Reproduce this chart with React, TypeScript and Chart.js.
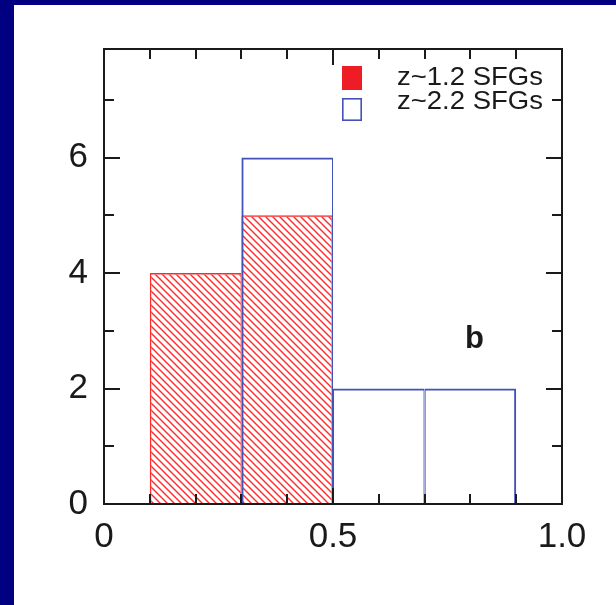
import React, { useEffect, useRef } from "react";
import { Chart, registerables } from "chart.js";

Chart.register(...registerables);

// ---- data ----
const binCenters = [0.2, 0.4, 0.6, 0.8]; // bins 0.1–0.3, 0.3–0.5, 0.5–0.7, 0.7–0.9
const z12Counts = [4, 5, 0, 0];
const z22Counts = [0, 6, 2, 2];
const seriesLabels = ["z~1.2 SFGs", "z~2.2 SFGs"];
const xTickLabels = ["0", "0.5", "1.0"];
const xTickValues = [0, 0.5, 1.0];
const yTickLabels = ["0", "2", "4", "6"];
const yTickValues = [0, 2, 4, 6];
const panelLabel = "b";

const RED = "#ff2a2a";
const RED_FILL = "#ee1c24";
const BLUE = "#4252b8";
const INK = "#1a1a1a";

function makeHatch(): CanvasPattern | string {
  const s = 7;
  const c = document.createElement("canvas");
  c.width = s;
  c.height = s;
  const g = c.getContext("2d");
  if (!g) return RED;
  g.strokeStyle = RED;
  g.lineWidth = 1.4;
  g.beginPath();
  g.moveTo(0, 0);
  g.lineTo(s, s);
  g.moveTo(-1, s - 1);
  g.lineTo(1, s + 1);
  g.moveTo(s - 1, -1);
  g.lineTo(s + 1, 1);
  g.stroke();
  return g.createPattern(c, "repeat") || RED;
}

const toPoints = (counts: number[]) =>
  binCenters
    .map((x, i) => ({ x, y: counts[i], bin: i }))
    .filter((p) => p.y > 0);

// histogram outline: shared edges between neighbouring bins get half width on each side
const outlineWidth = (counts: number[], w: number) => (ctx: any) => {
  const raw = ctx.raw;
  if (!raw) return w;
  const i = raw.bin;
  const hasLeft = i > 0 && counts[i - 1] > 0;
  const hasRight = i < counts.length - 1 && counts[i + 1] > 0;
  return { top: w, bottom: 0, left: hasLeft ? w / 2 : w, right: hasRight ? w / 2 : w };
};

const frameAndTicks = {
  id: "frameAndTicks",
  afterDatasetsDraw(chart: any) {
    const ctx = chart.ctx;
    const { left, right, top, bottom } = chart.chartArea;
    const xs = chart.scales.x;
    const ys = chart.scales.y;
    ctx.save();
    ctx.strokeStyle = INK;
    ctx.lineWidth = 2;
    ctx.beginPath();
    xs.ticks.forEach((t: any) => {
      const v = Math.round(t.value * 10) / 10;
      if (v <= 0 || v >= 1) return;
      const major = xTickValues.some((m) => Math.abs(m - v) < 1e-6);
      const len = major ? 16 : 10;
      const px = Math.round(xs.getPixelForValue(v));
      ctx.moveTo(px, bottom);
      ctx.lineTo(px, bottom - len);
      ctx.moveTo(px, top);
      ctx.lineTo(px, top + len);
    });
    ys.ticks.forEach((t: any) => {
      const v = t.value;
      if (Math.abs(v - Math.round(v)) > 1e-6 || v <= 0) return;
      const major = yTickValues.includes(v);
      const len = major ? 16 : 10;
      const py = Math.round(ys.getPixelForValue(v));
      ctx.moveTo(left, py);
      ctx.lineTo(left + len, py);
      ctx.moveTo(right, py);
      ctx.lineTo(right - len, py);
    });
    ctx.stroke();
    ctx.strokeRect(left, top, right - left, bottom - top);
    ctx.restore();
  },
};

const customLegend = {
  id: "customLegend",
  afterDraw(chart: any) {
    const ctx = chart.ctx;
    const xs = chart.scales.x;
    const ys = chart.scales.y;
    ctx.save();
    const bx = 342;
    const rows = [
      { y: 66, h: 24, fill: true },
      { y: 98, h: 23, fill: false },
    ];
    rows.forEach((r, i) => {
      if (r.fill) {
        ctx.fillStyle = RED_FILL;
        ctx.fillRect(bx, r.y, 20, r.h);
      } else {
        ctx.strokeStyle = BLUE;
        ctx.lineWidth = 1.6;
        ctx.strokeRect(bx + 0.8, r.y + 0.8, 18.4, r.h - 1.6);
      }
      ctx.save();
      ctx.fillStyle = INK;
      ctx.font = '25px "Liberation Sans", Arial, sans-serif';
      ctx.textBaseline = "alphabetic";
      ctx.translate(397, i === 0 ? 85 : 109);
      ctx.scale(1.1, 1);
      ctx.fillText(seriesLabels[i], 0, 0);
      ctx.restore();
    });
    ctx.fillStyle = INK;
    ctx.font = 'bold 31px "Liberation Sans", Arial, sans-serif';
    ctx.textBaseline = "alphabetic";
    ctx.fillText(panelLabel, xs.getPixelForValue(0.788), ys.getPixelForValue(2.7));
    ctx.restore();
  },
};

export default function App() {
  const ref = useRef<HTMLCanvasElement | null>(null);

  useEffect(() => {
    document.body.style.margin = "0";
    const canvas = ref.current;
    if (!canvas) return;
    const hatch = makeHatch();
    const tickFont = { family: '"Liberation Sans", Arial, sans-serif', size: 35 };
    // Bar width = smallest tick/data spacing (0.1) * categoryPercentage (2) = bin width 0.2
    const barCommon = {
      borderSkipped: false,
      barPercentage: 1,
      categoryPercentage: 2,
      inflateAmount: 0,
    };
    const chart = new Chart(canvas, {
      type: "bar",
      data: {
        datasets: [
          {
            label: seriesLabels[0],
            data: toPoints(z12Counts),
            backgroundColor: hatch as any,
            borderColor: RED,
            borderWidth: outlineWidth(z12Counts, 1.4),
            order: 2,
            ...barCommon,
          },
          {
            label: seriesLabels[1],
            data: toPoints(z22Counts),
            backgroundColor: "rgba(0,0,0,0)",
            borderColor: BLUE,
            borderWidth: outlineWidth(z22Counts, 2),
            order: 1,
            ...barCommon,
          },
        ] as any,
      },
      options: {
        animation: false,
        responsive: false,
        devicePixelRatio: 1,
        layout: { padding: { left: 0, top: 49, right: 54, bottom: 0 } },
        plugins: { legend: { display: false }, tooltip: { enabled: false } },
        datasets: { bar: { grouped: false } },
        scales: {
          x: {
            type: "linear",
            min: 0,
            max: 1,
            offset: false,
            grid: { display: false, drawTicks: false },
            border: { display: false },
            afterFit: (s: any) => {
              s.height = 101;
            },
            ticks: {
              stepSize: 0.1,
              autoSkip: false,
              maxRotation: 0,
              padding: 12,
              color: INK,
              font: tickFont,
              callback: (value: any) => {
                const i = xTickValues.findIndex((m) => Math.abs(m - Number(value)) < 1e-6);
                return i >= 0 ? xTickLabels[i] : "";
              },
            },
          },
          y: {
            min: 0,
            max: 7.88,
            grid: { display: false, drawTicks: false },
            border: { display: false },
            afterFit: (s: any) => {
              s.width = 104;
            },
            ticks: {
              stepSize: 1,
              autoSkip: false,
              padding: 16,
              color: INK,
              font: tickFont,
              callback: (value: any) => {
                const i = yTickValues.findIndex((m) => Math.abs(m - Number(value)) < 1e-6);
                return i >= 0 ? yTickLabels[i] : "";
              },
            },
          },
        },
      },
      plugins: [frameAndTicks, customLegend],
    });
    return () => chart.destroy();
  }, []);

  return (
    <div
      style={{
        position: "fixed",
        left: 0,
        top: 0,
        width: 616,
        height: 605,
        background: "#000080",
        overflow: "hidden",
      }}
    >
      <div
        style={{
          position: "absolute",
          left: 14,
          top: 5,
          right: 0,
          bottom: 0,
          background: "#ffffff",
        }}
      />
      <canvas
        ref={ref}
        width={616}
        height={605}
        style={{ position: "absolute", left: 0, top: 0, display: "block" }}
      />
    </div>
  );
}
